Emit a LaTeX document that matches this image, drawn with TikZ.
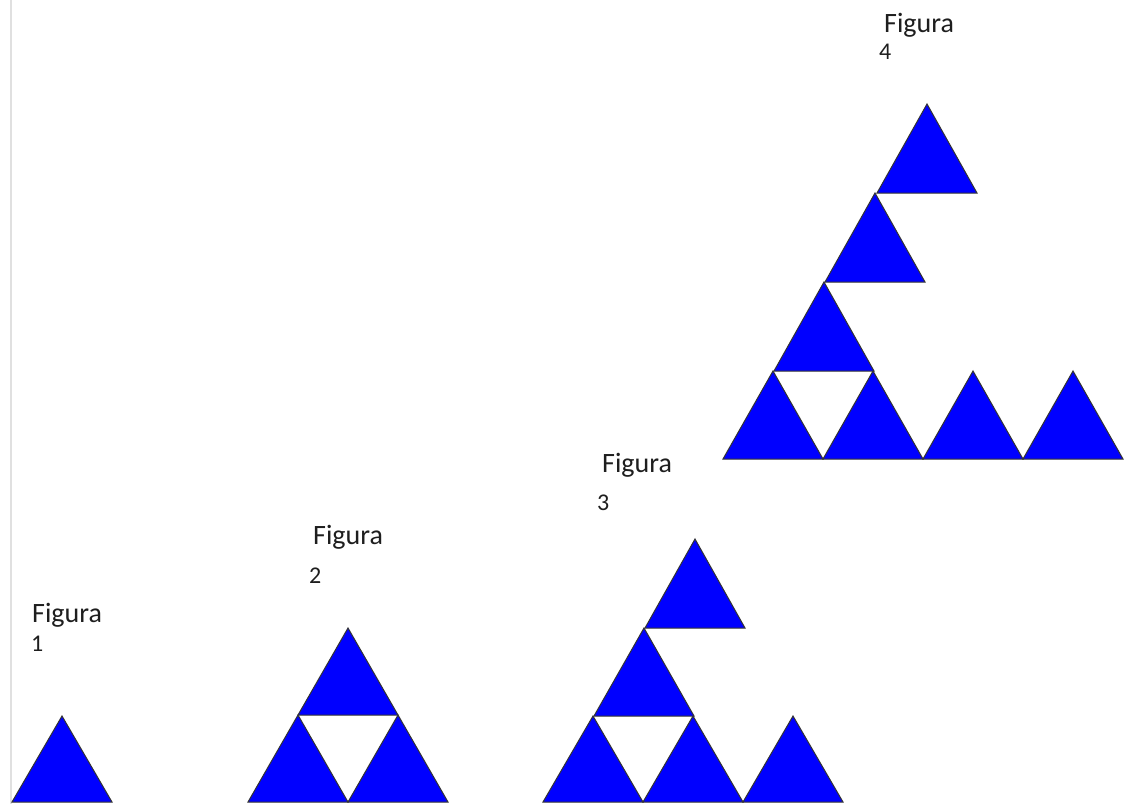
\documentclass[tikz,border=0pt]{standalone}
\usepackage{fontspec}
\setmainfont{Carlito}
\definecolor{triblue}{RGB}{0,0,255}
\definecolor{txt}{RGB}{30,30,30}
\newcommand\bluetri[3]{\draw[tri] (#1,#2) -- ++(100,0) -- (#1+50,#3) -- cycle;}
\begin{document}
\begin{tikzpicture}[x=1pt,y=-1pt,
  tri/.style={fill=triblue,draw=black!80,line width=1pt,line join=miter},
  fig/.style={anchor=base west,inner sep=0pt,text=txt,font=\fontsize{28}{30}\selectfont},
  num/.style={anchor=base west,inner sep=0pt,text=txt,font=\fontsize{24}{26}\selectfont},
  edge/.style={draw=black!12,line width=1.5pt}]
\useasboundingbox[fill=white] (0,0) rectangle (1126,804);
\draw[edge] (11,0) -- (11,804);
% Figure 1
\bluetri{12}{802}{716}
\node[fig] (f1) at (32,622) {Figura};
\node[num] (n1) at (31,651) {1};
% Figure 2
\bluetri{248}{802}{715}
\bluetri{348}{802}{715}
\bluetri{298}{715}{628}
\node[fig] (f2) at (313,544) {Figura};
\node[num] (n2) at (309,583) {2};
% Figure 3
\bluetri{543}{802}{716}
\bluetri{643}{802}{716}
\bluetri{743}{802}{716}
\bluetri{594}{716}{628}
\bluetri{645}{628}{539}
\node[fig] (f3) at (602,472) {Figura};
\node[num] (n3) at (597,510) {3};
% Figure 4
\bluetri{723}{459}{371}
\bluetri{823}{459}{371}
\bluetri{923}{459}{371}
\bluetri{1023}{459}{371}
\bluetri{774}{371}{282}
\bluetri{825}{282}{193}
\bluetri{877}{193}{104}
\node[fig] (f4) at (884,32) {Figura};
\node[num] (n4) at (879,59) {4};
\end{tikzpicture}
\end{document}
